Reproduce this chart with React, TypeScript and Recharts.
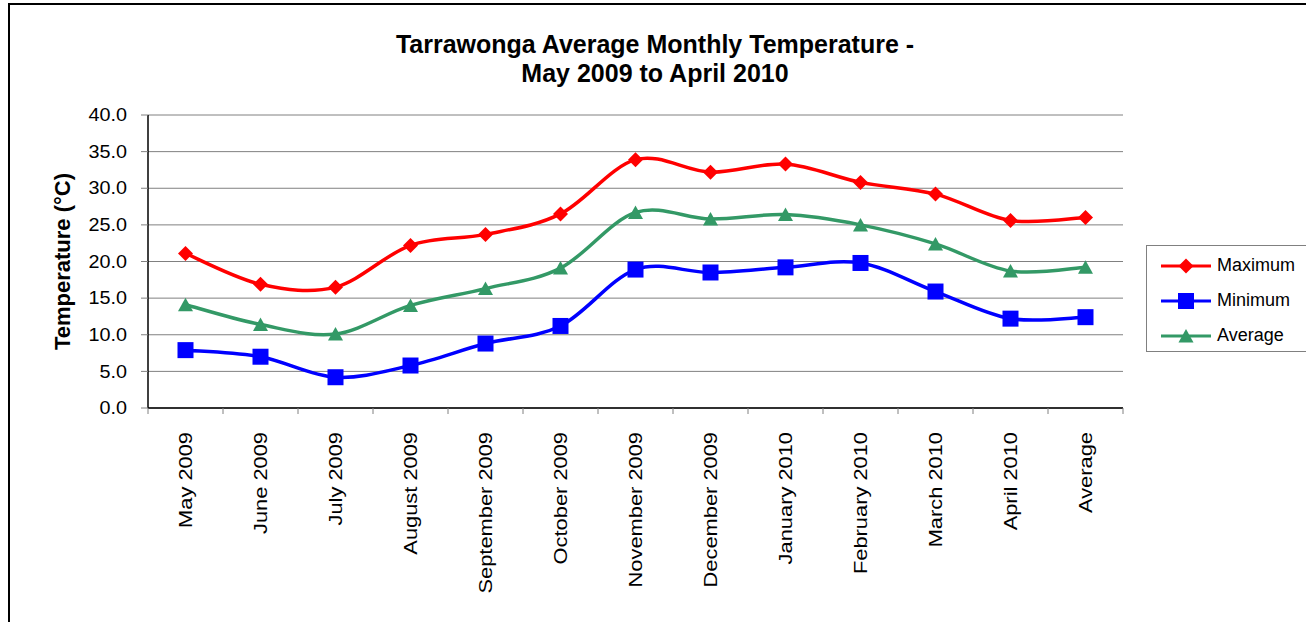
import React from 'react';
import { LineChart, Line, XAxis, YAxis, CartesianGrid } from 'recharts';

const months = [
  'May 2009', 'June 2009', 'July 2009', 'August 2009', 'September 2009', 'October 2009',
  'November 2009', 'December 2009', 'January 2010', 'February 2010', 'March 2010', 'April 2010', 'Average',
];
const maximum = [21.1, 16.9, 16.5, 22.2, 23.7, 26.5, 33.9, 32.2, 33.3, 30.8, 29.2, 25.6, 26.0];
const minimum = [7.9, 7.0, 4.2, 5.8, 8.8, 11.2, 18.9, 18.5, 19.2, 19.8, 15.9, 12.2, 12.4];
const average = [14.1, 11.4, 10.1, 14.0, 16.3, 19.1, 26.7, 25.8, 26.4, 25.0, 22.4, 18.7, 19.2];
const yTicks = [0, 5, 10, 15, 20, 25, 30, 35, 40];

const data = months.map((m, i) => ({ month: m, max: maximum[i], min: minimum[i], avg: average[i] }));

const FONT = '"Liberation Sans", Arial, sans-serif';
const RED = '#FF0000';
const BLUE = '#0000FF';
const GREEN = '#339966';

// Excel style smoothing (Catmull-Rom as cubic beziers)
function excelCurve(context: any) {
  let pts: number[][] = [];
  return {
    areaStart() {},
    areaEnd() {},
    lineStart() { pts = []; },
    point(x: number, y: number) { pts.push([+x, +y]); },
    lineEnd() {
      if (!pts.length) return;
      context.moveTo(pts[0][0], pts[0][1]);
      for (let i = 0; i < pts.length - 1; i++) {
        const p0 = pts[i - 1] || pts[i];
        const p1 = pts[i];
        const p2 = pts[i + 1];
        const p3 = pts[i + 2] || p2;
        context.bezierCurveTo(
          p1[0] + (p2[0] - p0[0]) / 6, p1[1] + (p2[1] - p0[1]) / 6,
          p2[0] - (p3[0] - p1[0]) / 6, p2[1] - (p3[1] - p1[1]) / 6,
          p2[0], p2[1]
        );
      }
    },
  };
}

function Marker({ shape, cx, cy, color }: { shape: string; cx: number; cy: number; color: string }) {
  if (shape === 'diamond') {
    return <path d={`M${cx},${cy - 7.5}L${cx + 7.5},${cy}L${cx},${cy + 7.5}L${cx - 7.5},${cy}Z`} fill={color} />;
  }
  if (shape === 'square') {
    return <rect x={cx - 8} y={cy - 8} width={16} height={16} fill={color} />;
  }
  return <path d={`M${cx},${cy - 7}L${cx + 7.5},${cy + 6.5}L${cx - 7.5},${cy + 6.5}Z`} fill={color} />;
}

const makeDot = (shape: string, color: string) => (props: any) => (
  <Marker key={`${shape}-${props.index}`} shape={shape} cx={props.cx} cy={props.cy} color={color} />
);

function MonthTick(props: any) {
  const { x, y, payload, index } = props;
  const half = 37.5;
  return (
    <g>
      <line x1={x - half} y1={y - 8} x2={x - half} y2={y - 2} stroke="#808080" />
      {index === months.length - 1 && (
        <line x1={x + half} y1={y - 8} x2={x + half} y2={y - 2} stroke="#808080" />
      )}
      <text
        transform={`translate(${x} ${y + 16}) rotate(-90) scale(1.15 1)`}
        textAnchor="end"
        dominantBaseline="central"
        fontFamily={FONT}
        fontSize={19}
        fill="#000"
      >
        {payload.value}
      </text>
    </g>
  );
}

function TempTick(props: any) {
  const { x, y, payload } = props;
  return (
    <text
      transform={`translate(${x} ${y}) scale(1.1 1)`}
      textAnchor="end"
      dominantBaseline="central"
      fontFamily={FONT}
      fontSize={18}
      fill="#000"
    >
      {Number(payload.value).toFixed(1)}
    </text>
  );
}

const legendItems = [
  { name: 'Maximum', color: RED, shape: 'diamond' },
  { name: 'Minimum', color: BLUE, shape: 'square' },
  { name: 'Average', color: GREEN, shape: 'triangle' },
];

function LegendBox() {
  return (
    <div
      style={{
        position: 'absolute', left: 1146, top: 245, width: 175, height: 107,
        border: '1px solid #808080', boxSizing: 'border-box', background: '#fff', paddingTop: 2,
      }}
    >
      {legendItems.map((it) => (
        <div key={it.name} style={{ display: 'flex', alignItems: 'center', height: 35 }}>
          <svg width={56} height={20} style={{ marginLeft: 13 }}>
            <line x1={1} y1={10} x2={51} y2={10} stroke={it.color} strokeWidth={3} />
            <Marker shape={it.shape} cx={26} cy={10} color={it.color} />
          </svg>
          <span style={{ fontFamily: FONT, fontSize: 18, marginLeft: 1, color: '#000' }}>{it.name}</span>
        </div>
      ))}
    </div>
  );
}

export default function App() {
  return (
    <div style={{ position: 'absolute', left: 0, top: 0, width: 1306, height: 622, overflow: 'hidden', background: '#fff' }}>
      <div style={{ position: 'absolute', left: 8, top: 3, width: 1320, height: 660, border: '2px solid #000', boxSizing: 'border-box' }} />
      <div
        style={{
          position: 'absolute', left: 0, top: 30, width: 1310, textAlign: 'center',
          fontFamily: FONT, fontWeight: 'bold', fontSize: 25, lineHeight: '29px', color: '#000',
        }}
      >
        Tarrawonga Average Monthly Temperature -<br />May 2009 to April 2010
      </div>
      <LineChart
        width={1306}
        height={622}
        data={data}
        margin={{ top: 115, right: 183, bottom: 0, left: 0 }}
        style={{ position: 'absolute', left: 0, top: 0 }}
      >
        <CartesianGrid horizontal vertical={false} stroke="#808080" strokeWidth={1} />
        <XAxis
          dataKey="month"
          interval={0}
          height={214}
          padding={{ left: 37.5, right: 37.5 }}
          tickLine={false}
          axisLine={{ stroke: '#000', strokeWidth: 1.5 }}
          tick={<MonthTick />}
        />
        <YAxis
          domain={[0, 40]}
          ticks={yTicks}
          width={148}
          tickSize={7}
          tickMargin={14}
          tickLine={{ stroke: '#808080' }}
          axisLine={{ stroke: '#000', strokeWidth: 1.5 }}
          tick={<TempTick />}
          label={{
            value: 'Temperature (°C)', angle: -90, position: 'insideLeft', offset: 62,
            style: { fontFamily: FONT, fontSize: 22, fontWeight: 'bold', fill: '#000', textAnchor: 'middle' },
          }}
        />
        <YAxis
          yAxisId="frame"
          orientation="right"
          width={0}
          domain={[0, 40]}
          tick={false}
          tickLine={false}
          axisLine={{ stroke: '#808080' }}
        />
        <Line
          dataKey="max"
          name="Maximum"
          type={excelCurve as any}
          stroke={RED}
          strokeWidth={3.5}
          dot={makeDot('diamond', RED)}
          activeDot={false}
          isAnimationActive={false}
        />
        <Line
          dataKey="min"
          name="Minimum"
          type={excelCurve as any}
          stroke={BLUE}
          strokeWidth={3.5}
          dot={makeDot('square', BLUE)}
          activeDot={false}
          isAnimationActive={false}
        />
        <Line
          dataKey="avg"
          name="Average"
          type={excelCurve as any}
          stroke={GREEN}
          strokeWidth={3.5}
          dot={makeDot('triangle', GREEN)}
          activeDot={false}
          isAnimationActive={false}
        />
      </LineChart>
      <LegendBox />
    </div>
  );
}
